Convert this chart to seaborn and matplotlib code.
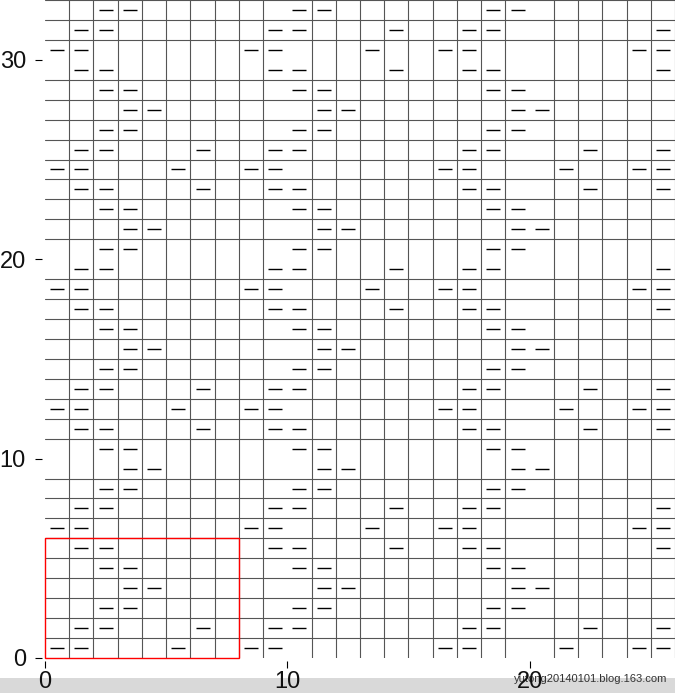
import matplotlib
matplotlib.use("Agg")
import matplotlib.pyplot as plt
from matplotlib.patches import Rectangle
import numpy as np
import pandas as pd
import seaborn as sns

# columns carrying a purl dash, one list per row type
row_a = [0, 1, 5, 8, 9, 16, 17, 21, 24, 25]
row_b = [1, 2, 6, 9, 10, 17, 18, 22, 25]
row_c = [2, 3, 10, 11, 18, 19]
row_d = [3, 4, 11, 12, 19, 20]
row_e = [1, 2, 9, 10, 14, 17, 18, 25]
row_f = [0, 1, 8, 9, 13, 16, 17, 24, 25]

# row type for each chart row, bottom (row 0) to top (row 32)
row_order = "ABCDCEFECDCBABCDCEFECDCBABCDCEFEC"

n_cols = 26
n_rows = 33
x_ticks = [0, 10, 20]
y_ticks = [0, 10, 20, 30]
repeat_box = (0, 0, 8, 6)  # x, y, width, height of the red repeat outline
watermark = "yutong20140101.blog.163.com"

row_types = {"A": row_a, "B": row_b, "C": row_c, "D": row_d, "E": row_e, "F": row_f}
marks = pd.DataFrame(
    [(c + 0.5, r + 0.5) for r, key in enumerate(row_order) for c in row_types[key]],
    columns=["x", "y"],
)

sns.set_style("white")
plt.rcParams["font.family"] = ["Liberation Sans", "DejaVu Sans"]

W, H = 675, 693
fig = plt.figure(figsize=(W / 100, H / 100), dpi=100)
ax = fig.add_axes([45 / W, 35 / H, 630 / W, 658 / H])

sns.scatterplot(data=marks, x="x", y="y", marker="_", s=110,
                color="black", linewidth=1.0, ax=ax, zorder=3)

ax.set_xlim(0, n_cols)
ax.set_ylim(0, n_rows)

# cell grid
ax.set_xticks(np.arange(0, n_cols + 1), minor=True)
ax.set_yticks(np.arange(1, n_rows + 1), minor=True)
ax.grid(which="minor", color="#555555", linewidth=0.8)
ax.grid(which="major", visible=False)

ax.add_patch(Rectangle(repeat_box[:2], repeat_box[2], repeat_box[3],
                       fill=False, edgecolor="red", linewidth=1.0, zorder=4,
                       clip_on=False))

ax.set_xticks(x_ticks)
ax.set_yticks(y_ticks)
ax.set_xlabel("")
ax.set_ylabel("")
for side in ["top", "right", "bottom", "left"]:
    ax.spines[side].set_visible(False)
ax.spines["bottom"].set_position(("outward", 2.2))
ax.spines["left"].set_position(("outward", 2.2))
ax.tick_params(which="major", direction="out", length=5, width=0.8,
               color="black", labelsize=17, labelcolor="#111111",
               bottom=True, left=True)
ax.tick_params(axis="y", which="major", pad=6.5)
ax.tick_params(axis="x", which="major", pad=2.5)
ax.tick_params(which="minor", length=0)

# blog watermark band along the bottom
fig.patches.append(Rectangle((0, 0), 1, 15 / H, transform=fig.transFigure,
                             facecolor="#d9d9d9", edgecolor="none", zorder=-1))
fig.text(667 / W, 11 / H, watermark, ha="right", va="baseline",
         fontsize=8, color="#333333", zorder=-0.5)

fig.savefig("out.png", dpi=100)
